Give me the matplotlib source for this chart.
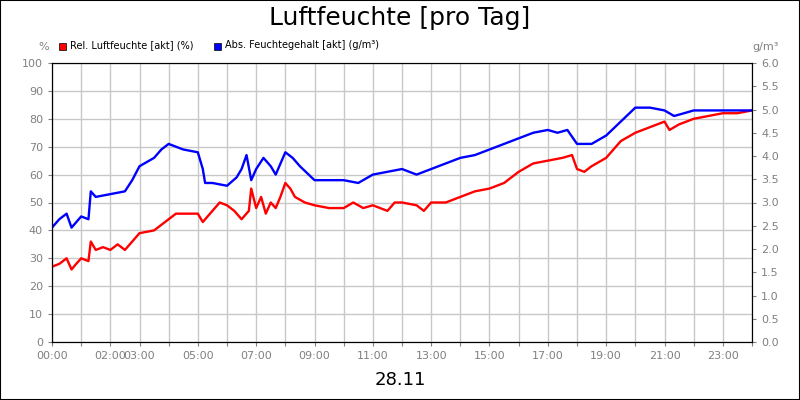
import matplotlib
matplotlib.use("Agg")
import matplotlib.pyplot as plt
import numpy as np

t_rel = [0,0.25,0.5,0.67,0.83,1,1.25,1.33,1.5,1.75,2,2.25,2.5,2.75,3,3.5,4,4.25,4.5,4.75,5,5.17,5.5,5.75,6,6.25,6.5,6.75,6.83,7,7.17,7.33,7.5,7.67,7.83,8,8.17,8.33,8.67,9,9.5,10,10.33,10.67,11,11.5,11.75,12,12.5,12.75,13,13.5,14,14.5,15,15.5,16,16.5,17,17.5,17.83,18,18.25,18.5,19,19.5,20,20.5,21,21.17,21.5,22,22.5,23,23.5,24]
rel = [27,28,30,26,28,30,29,36,33,34,33,35,33,36,39,40,44,46,46,46,46,43,47,50,49,47,44,47,55,48,52,46,50,48,52,57,55,52,50,49,48,48,50,48,49,47,50,50,49,47,50,50,52,54,55,57,61,64,65,66,67,62,61,63,66,72,75,77,79,76,78,80,81,82,82,83]
t_abs = [0,0.25,0.5,0.67,1,1.25,1.33,1.5,2,2.5,2.75,3,3.5,3.75,4,4.5,5,5.17,5.25,5.5,6,6.33,6.5,6.67,6.83,7,7.25,7.5,7.67,8,8.25,8.5,9,9.5,10,10.5,11,11.5,12,12.5,13,13.5,14,14.5,15,15.5,16,16.5,17,17.33,17.67,18,18.5,19,19.5,20,20.5,21,21.33,21.67,22,23,24]
absf = [2.46,2.64,2.76,2.46,2.70,2.64,3.24,3.12,3.18,3.24,3.48,3.78,3.96,4.14,4.26,4.14,4.08,3.72,3.42,3.42,3.36,3.54,3.72,4.02,3.48,3.72,3.96,3.78,3.60,4.08,3.96,3.78,3.48,3.48,3.48,3.42,3.60,3.66,3.72,3.60,3.72,3.84,3.96,4.02,4.14,4.26,4.38,4.50,4.56,4.50,4.56,4.26,4.26,4.44,4.74,5.04,5.04,4.98,4.86,4.92,4.98,4.98,4.98]

fig = plt.figure(figsize=(8,4), dpi=100)
fig.patches.append(plt.Rectangle((0,0),1,1,transform=fig.transFigure,fill=False,ec='black',lw=1.5))
ax = fig.add_axes([52/800, 58/400, 700/800, 279/400])
ax.plot(t_rel, rel, color='#ff0000', lw=1.7)
ax.set_xlim(0,24); ax.set_ylim(0,100)
ax.set_yticks(range(0,101,10))
ax.set_xticks(range(0,25))
lab = ['00:00','','02:00','03:00','','05:00','','07:00','','09:00','','11:00','','13:00','','15:00','','17:00','','19:00','','21:00','','23:00','']
ax.set_xticklabels(lab)
ax.grid(True, color='#c8c8c8', lw=1)
ax2 = ax.twinx()
ax2.plot(t_abs, absf, color='#0000ff', lw=1.7)
ax2.set_ylim(0,6); ax2.set_yticks(np.arange(0,6.01,0.5))
ax2.set_yticklabels([f'{v:.1f}' for v in np.arange(0,6.01,0.5)])
for a in (ax, ax2):
    a.tick_params(labelsize=8, colors='#808080', length=3)
    for s in a.spines.values(): s.set_color('black')
fig.text(0.5, 0.955, 'Luftfeuchte [pro Tag]', ha='center', va='center', fontsize=18)
fig.text(0.5, 0.05, '28.11', ha='center', va='center', fontsize=13)
fig.text(38/800, 0.882, '%', ha='left', va='center', fontsize=8, color='#808080')
fig.text(752/800, 0.882, 'g/m³', ha='left', va='center', fontsize=8, color='#808080')
fig.patches.append(plt.Rectangle((59/800, 0.875), 7/800, 7/400, transform=fig.transFigure, fc='red', ec='black', lw=0.5))
fig.text(70/800, 0.888, 'Rel. Luftfeuchte [akt] (%)', fontsize=7, va='center')
fig.patches.append(plt.Rectangle((214/800, 0.875), 7/800, 7/400, transform=fig.transFigure, fc='blue', ec='black', lw=0.5))
fig.text(225/800, 0.888, 'Abs. Feuchtegehalt [akt] (g/m³)', fontsize=7, va='center')
fig.savefig('out.png', dpi=100)
